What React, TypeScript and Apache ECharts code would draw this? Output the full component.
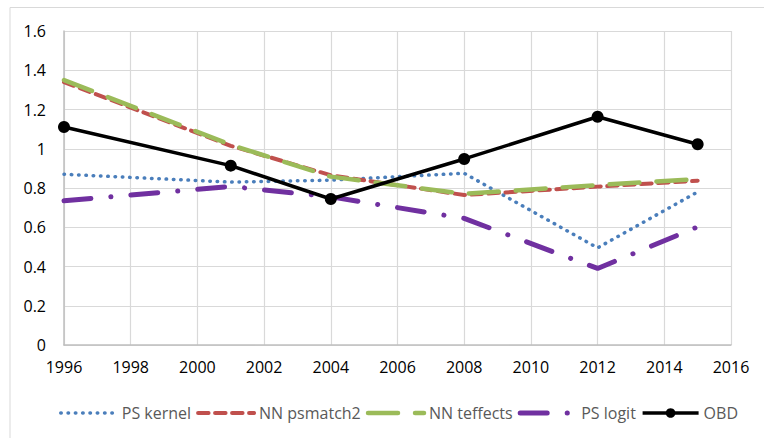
import React, { useEffect, useRef } from "react";
import * as echarts from "echarts";

const years = [1996, 2001, 2004, 2008, 2012, 2015];
const psKernel = [0.87, 0.83, 0.84, 0.875, 0.495, 0.78];
const nnPsmatch2 = [1.34, 1.015, 0.865, 0.764, 0.807, 0.837];
const nnTeffects = [1.35, 1.02, 0.858, 0.77, 0.815, 0.845];
const psLogit = [0.735, 0.808, 0.755, 0.645, 0.39, 0.602];
const obd = [1.111, 0.914, 0.744, 0.948, 1.163, 1.023];
const seriesNames = ["PS kernel", "NN psmatch2", "NN teffects", "PS logit", "OBD"];

const pairs = (vals: number[]) => years.map((y, i) => [y, vals[i]]);

export default function App() {
  const ref = useRef<HTMLDivElement>(null);
  useEffect(() => {
    if (!ref.current) return;
    const chart = echarts.init(ref.current, null, { renderer: "svg" });
    const font = "'Open Sans', sans-serif";
    const hiddenSymbol = { color: "rgba(0,0,0,0)", borderWidth: 0, opacity: 0 };
    const styles: Record<string, any> = {
      "PS kernel": { color: "#4a7ebb", width: 3.5, type: [0.5, 6.8], cap: "round" },
      "NN psmatch2": { color: "#c0504d", width: 4, type: [10.5, 6.5], cap: "round" },
      "NN teffects": { color: "#9bbb59", width: 4.5, type: [30, 17], cap: "round" },
      "PS logit": { color: "#7030a0", width: 5, type: [27, 20, 0.1, 20], cap: "round" },
      OBD: { color: "#000000", width: 3.5, type: "solid" },
    };
    const mk = (name: string, vals: number[]) => ({
      name,
      type: "line",
      data: pairs(vals),
      symbol: name === "OBD" ? "circle" : "none",
      symbolSize: 12,
      itemStyle: { color: styles[name].color },
      lineStyle: styles[name],
    });
    chart.setOption({
      animation: false,
      backgroundColor: "#ffffff",
      graphic: [
        {
          type: "rect",
          shape: { x: 10, y: 7.5, width: 800, height: 500 },
          style: { stroke: "#d9d9d9", fill: "none", lineWidth: 1 },
          silent: true,
        },
      ],
      grid: { left: 64, right: 33, top: 31, bottom: 93 },
      legend: {
        data: seriesNames.map((n) =>
          n === "OBD"
            ? { name: n, lineStyle: { ...styles[n] } }
            : { name: n, itemStyle: hiddenSymbol, lineStyle: { ...styles[n] } }
        ),
        left: 54,
        top: 400,
        itemWidth: 56,
        itemHeight: 12,
        itemGap: 5,
        textStyle: { color: "#595959", fontSize: 16, fontFamily: font },
      },
      xAxis: {
        type: "value",
        min: 1996,
        max: 2016,
        interval: 2,
        axisLine: { show: true, lineStyle: { color: "#bfbfbf", width: 1.5 } },
        axisTick: { show: false },
        splitLine: { show: true, lineStyle: { color: "#d9d9d9", width: 1.2 } },
        axisLabel: {
          color: "#000",
          fontSize: 16,
          fontFamily: font,
          margin: 14,
          formatter: (v: number) => String(v),
        },
      },
      yAxis: {
        type: "value",
        min: 0,
        max: 1.6,
        interval: 0.2,
        axisLine: { show: true, lineStyle: { color: "#bfbfbf", width: 1.5 } },
        axisTick: { show: false },
        splitLine: { show: true, lineStyle: { color: "#d9d9d9", width: 1.2 } },
        axisLabel: {
          color: "#000",
          fontSize: 16,
          fontFamily: font,
          margin: 18,
          formatter: (v: number) => String(Number(v.toFixed(1))),
        },
      },
      series: [
        mk("PS kernel", psKernel),
        mk("NN psmatch2", nnPsmatch2),
        mk("NN teffects", nnTeffects),
        mk("PS logit", psLogit),
        mk("OBD", obd),
      ],
    });
    return () => chart.dispose();
  }, []);
  return (
    <div
      ref={ref}
      style={{ position: "fixed", left: 0, top: 0, width: 764, height: 438 }}
    />
  );
}
